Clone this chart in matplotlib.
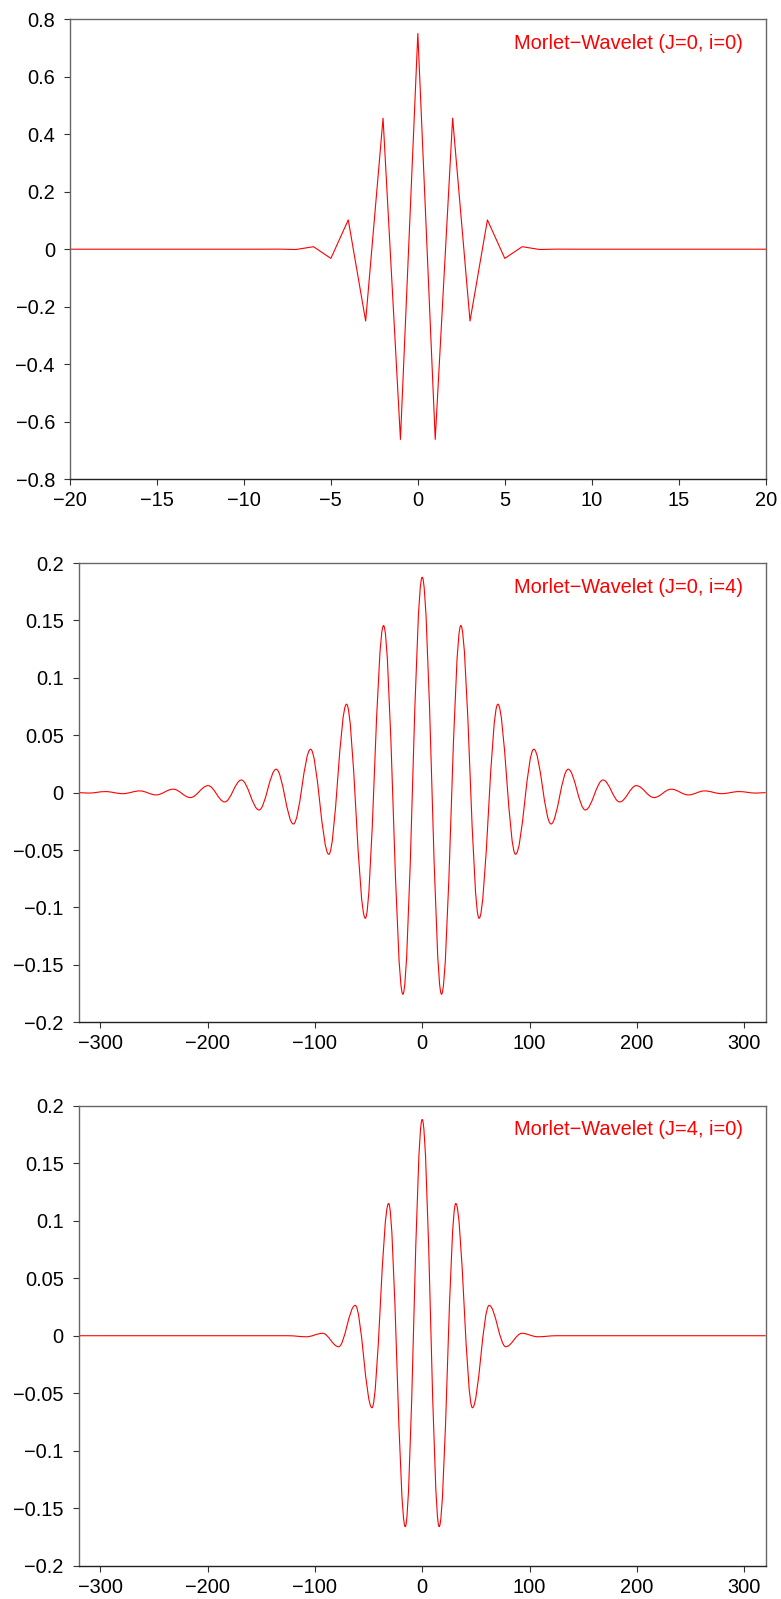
import matplotlib
matplotlib.use("Agg")
import matplotlib.pyplot as plt
from matplotlib.path import Path
from matplotlib.patches import PathPatch
from matplotlib.ticker import FuncFormatter

plt.rcParams['font.family'] = ['Liberation Sans', 'DejaVu Sans']

# panel 1 : sampled wavelet, one value per integer
p1_x = list(range(-20, 21))
p1_y = [0, 0, 0, 0, 0, 0, 0, 0, 0, 0, 0, 0,
        0.0003, -0.001, 0.0087, -0.032, 0.102, -0.25, 0.456, -0.662,
        0.751,
        -0.662, 0.456, -0.25, 0.102, -0.032, 0.0087, -0.001, 0.0003,
        0, 0, 0, 0, 0, 0, 0, 0, 0, 0, 0, 0]
p1_label = "Morlet\u2212Wavelet (J=0, i=0)"

# panel 2 : extrema of the smooth curve (x, value)
p2_x = [-320, -311, -295, -279, -263, -248, -232, -216, -199.5, -184, -168.5,
        -152, -136, -120, -104, -87, -70.5, -53, -36, -18,
        0,
        18, 36, 53, 70.5, 87, 104, 120, 136, 152, 168.5, 184, 199.5, 216,
        232, 248, 263, 279, 295, 311, 320]
p2_y = [0.0, -0.0004, 0.0009, -0.0009, 0.0015, -0.002, 0.003, -0.0043, 0.0061,
        -0.0081, 0.011, -0.0151, 0.0204, -0.0273, 0.0378, -0.0537, 0.077,
        -0.1094, 0.1455, -0.1756,
        0.1876,
        -0.1756, 0.1455, -0.1094, 0.077, -0.0537, 0.0378, -0.0273, 0.0204,
        -0.0151, 0.011, -0.0081, 0.0061, -0.0043, 0.003, -0.002, 0.0015,
        -0.0009, 0.0009, -0.0004, 0.0]
p2_label = "Morlet\u2212Wavelet (J=0, i=4)"

# panel 3 : extrema of the smooth curve (x, value)
p3_x = [-320, -125, -107.7, -92.8, -77.9, -62.4, -46.8, -31.3, -15.8,
        0,
        15.8, 31.3, 46.8, 62.4, 77.9, 92.8, 107.7, 125, 320]
p3_y = [0, 0, -0.0009, 0.0021, -0.0096, 0.0264, -0.0626, 0.115, -0.166,
        0.188,
        -0.166, 0.115, -0.0626, 0.0264, -0.0096, 0.0021, -0.0009, 0, 0]
p3_label = "Morlet\u2212Wavelet (J=4, i=0)"

RED = '#ff0000'


def fmt(v, pos):
    s = '%g' % round(v, 6)
    return s.replace('-', '\u2212')


def smooth_path(xs, ys, k=0.364):
    # cubic bezier between extrema, flat tangent at every extremum
    verts = [(xs[0], ys[0])]
    codes = [Path.MOVETO]
    for i in range(1, len(xs)):
        x0, y0, x1, y1 = xs[i - 1], ys[i - 1], xs[i], ys[i]
        dx = x1 - x0
        verts += [(x0 + k * dx, y0), (x1 - k * dx, y1), (x1, y1)]
        codes += [Path.CURVE4] * 3
    return Path(verts, codes)


def style(ax, xlim, ylim, xticks, yticks, label):
    ax.set_xlim(*xlim)
    ax.set_ylim(*ylim)
    ax.set_xticks(xticks)
    ax.set_yticks(yticks)
    ax.xaxis.set_major_formatter(FuncFormatter(fmt))
    ax.yaxis.set_major_formatter(FuncFormatter(fmt))
    ax.tick_params(direction='out', length=4.3, width=0.8, labelsize=14.4,
                   top=False, right=False, color='#333333')
    ax.tick_params(axis='x', pad=4.5)
    ax.tick_params(axis='y', pad=6.5)
    for s in ['left', 'right', 'top']:
        ax.spines[s].set_color('#666666')
    ax.spines['bottom'].set_color('#222222')
    for s in ax.spines.values():
        s.set_linewidth(1.0)
    ax.annotate(label, xy=(1, 1), xycoords='axes fraction',
                xytext=(-16.3, -17.3), textcoords='offset points',
                ha='right', va='center', color=RED, fontsize=14.4)


fig = plt.figure(figsize=(7.81, 15.99), dpi=100)

ax1 = fig.add_axes([0.0896, 0.7004, 0.8908, 0.2875])
ax1.plot(p1_x, p1_y, color=RED, lw=0.8)
style(ax1, (-20, 20), (-0.8, 0.8), range(-20, 21, 5),
      [-0.8, -0.6, -0.4, -0.2, 0, 0.2, 0.4, 0.6, 0.8], p1_label)

ax2 = fig.add_axes([0.1008, 0.3607, 0.8796, 0.2872])
ax2.add_patch(PathPatch(smooth_path(p2_x, p2_y), fill=False,
                        edgecolor=RED, lw=0.8))
style(ax2, (-320, 320), (-0.2, 0.2), range(-300, 301, 100),
      [-0.2, -0.15, -0.1, -0.05, 0, 0.05, 0.1, 0.15, 0.2], p2_label)

ax3 = fig.add_axes([0.1008, 0.0208, 0.8796, 0.2877])
ax3.add_patch(PathPatch(smooth_path(p3_x, p3_y), fill=False,
                        edgecolor=RED, lw=0.8))
style(ax3, (-320, 320), (-0.2, 0.2), range(-300, 301, 100),
      [-0.2, -0.15, -0.1, -0.05, 0, 0.05, 0.1, 0.15, 0.2], p3_label)

fig.savefig('out.png', dpi=100)
